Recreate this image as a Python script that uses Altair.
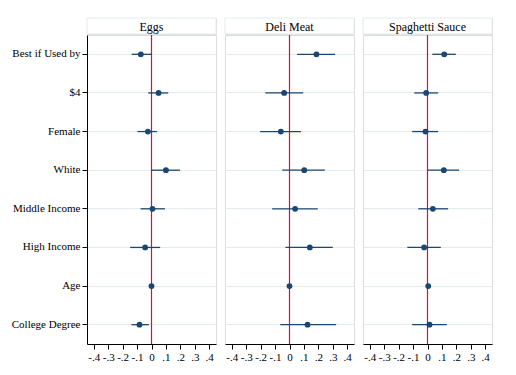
import altair as alt
import pandas as pd

variables = ["Best if Used by", "$4", "Female", "White", "Middle Income",
             "High Income", "Age", "College Degree"]
panels = ["Eggs", "Deli Meat", "Spaghetti Sauce"]

eggs_est = [-0.074, 0.049, -0.025, 0.100, 0.007, -0.044, 0.000, -0.083]
eggs_lo = [-0.137, -0.023, -0.097, 0.000, -0.076, -0.148, -0.005, -0.139]
eggs_hi = [-0.002, 0.116, 0.037, 0.197, 0.093, 0.060, 0.005, -0.018]

deli_est = [0.187, -0.037, -0.060, 0.102, 0.039, 0.141, 0.000, 0.125]
deli_lo = [0.053, -0.168, -0.203, -0.050, -0.120, -0.028, -0.005, -0.064]
deli_hi = [0.316, 0.095, 0.079, 0.245, 0.196, 0.300, 0.005, 0.323]

sauce_est = [0.116, -0.009, -0.014, 0.113, 0.037, -0.023, 0.005, 0.014]
sauce_lo = [0.033, -0.092, -0.106, 0.000, -0.064, -0.140, 0.000, -0.106]
sauce_hi = [0.196, 0.074, 0.074, 0.219, 0.143, 0.092, 0.010, 0.134]

x_ticks = [-0.4, -0.3, -0.2, -0.1, 0, 0.1, 0.2, 0.3, 0.4]

FONT = "Liberation Serif"
NAVY = "#1a476f"
RED = "#d0103f"
GRID = "#e4ebeb"
W = 129
H = 309
HH = 16

series = {
    "Eggs": (eggs_est, eggs_lo, eggs_hi),
    "Deli Meat": (deli_est, deli_lo, deli_hi),
    "Spaghetti Sauce": (sauce_est, sauce_lo, sauce_hi),
}

xscale = alt.Scale(domain=[-0.447, 0.447], nice=False, zero=False)
label_expr = ("datum.value == 0 ? '0' : (datum.value < 0 ? '-' : '') + "
              "replace(format(abs(datum.value), '.1f'), '0.', '.')")


def header(name):
    base = alt.Chart(pd.DataFrame({"t": [name]}))
    box = base.mark_rect(fill="white", stroke=GRID, strokeWidth=1).encode(
        x=alt.value(0), x2=alt.value(W), y=alt.value(0), y2=alt.value(HH))
    txt = base.mark_text(font=FONT, fontSize=12, baseline="middle",
                         align="center", color="black").encode(
        text="t:N", x=alt.value(W / 2), y=alt.value(HH / 2 + 1))
    return (box + txt).properties(width=W, height=HH)


def panel(name, first):
    est, lo, hi = series[name]
    df = pd.DataFrame({"var": variables, "est": est, "lo": lo, "hi": hi})
    base = alt.Chart(df)
    if first:
        yaxis = alt.Axis(title=None, domainColor="black", tickColor="black",
                         tickSize=5, labelFont=FONT, labelFontSize=11,
                         labelColor="black", labelPadding=2, grid=True,
                         gridColor=GRID, gridWidth=1)
    else:
        yaxis = alt.Axis(title=None, labels=False, ticks=False, domain=False,
                         grid=True, gridColor=GRID, gridWidth=1)
    xaxis = alt.Axis(title=None, values=x_ticks, labelExpr=label_expr,
                     grid=False, domainColor="black", tickColor="black",
                     tickSize=5, labelFont=FONT, labelFontSize=11,
                     labelColor="black", labelOverlap=False, labelFlush=False,
                     labelPadding=2)
    y = alt.Y("var:N", sort=variables, axis=yaxis)
    zero = alt.Chart(pd.DataFrame({"z": [0]})).mark_rule(
        color=RED, strokeWidth=1.2).encode(x=alt.X("z:Q", scale=xscale, axis=xaxis))
    bars = base.mark_rule(color=NAVY, strokeWidth=1.3).encode(
        x=alt.X("lo:Q", scale=xscale, axis=xaxis), x2="hi:Q", y=y)
    pts = base.mark_circle(color=NAVY, size=34, opacity=1).encode(
        x=alt.X("est:Q", scale=xscale, axis=xaxis), y=y)
    return (zero + bars + pts).properties(width=W, height=H)


cols = []
for i, p in enumerate(panels):
    cols.append(alt.vconcat(header(p), panel(p, i == 0), spacing=-3))

chart = alt.hconcat(*cols, spacing=7).properties(
    padding={"left": 2, "top": 9, "right": 5, "bottom": 5}
).configure_view(strokeWidth=0).configure(background="white")

chart.save("out.html", embed_options={"renderer": "svg", "actions": False})
